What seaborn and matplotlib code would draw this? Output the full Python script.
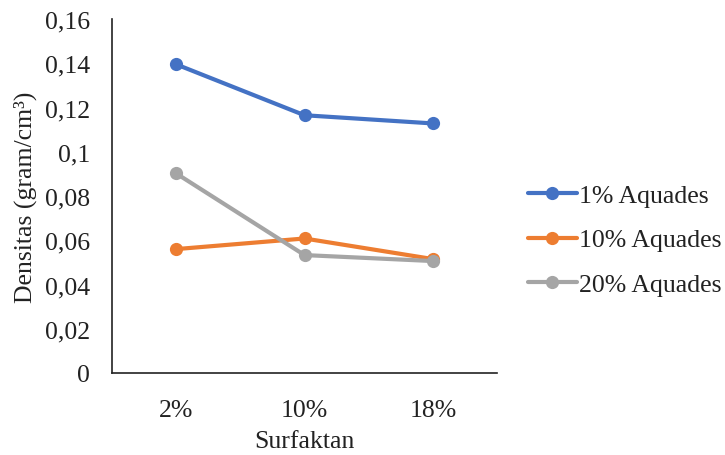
import matplotlib
matplotlib.use("Agg")
import matplotlib.pyplot as plt
import seaborn as sns
import pandas as pd

categories = ["2%", "10%", "18%"]
series_names = ["1% Aquades", "10% Aquades", "20% Aquades"]
aquades_1 = [0.1395, 0.1165, 0.1128]
aquades_10 = [0.0560, 0.0608, 0.0515]
aquades_20 = [0.0902, 0.0533, 0.0506]
colors = ["#4472C4", "#ED7D31", "#A5A5A5"]
yticks = [0, 0.02, 0.04, 0.06, 0.08, 0.1, 0.12, 0.14, 0.16]
ytick_labels = ["0", "0,02", "0,04", "0,06", "0,08", "0,1", "0,12", "0,14", "0,16"]

rows = []
for name, vals in zip(series_names, [aquades_1, aquades_10, aquades_20]):
    for c, v in zip(categories, vals):
        rows.append({"Surfaktan": c, "Densitas": v, "Seri": name})
df = pd.DataFrame(rows)

sns.set_style("white")
plt.rcParams["font.family"] = ["Liberation Serif", "DejaVu Serif"]
FS = 18.5

fig = plt.figure(figsize=(7.25, 4.56), dpi=100)
ax = fig.add_axes([112 / 725, 1 - 374 / 456, 385 / 725, 354 / 456])

sns.lineplot(data=df, x="Surfaktan", y="Densitas", hue="Seri", palette=colors,
             marker="o", markersize=9.5, markeredgewidth=0, linewidth=3,
             sort=False, ax=ax, legend=True)

ax.set_xlim(-0.5, 2.5)
ax.set_ylim(0, 0.16)
ax.set_yticks(yticks)
ax.set_yticklabels(ytick_labels)
ax.tick_params(axis="y", length=0, pad=16, labelsize=FS, colors="#222222")
ax.tick_params(axis="x", length=0, pad=19, labelsize=FS, colors="#222222")
for s in ["top", "right"]:
    ax.spines[s].set_visible(False)
for s in ["left", "bottom"]:
    ax.spines[s].set_color("#222222")
    ax.spines[s].set_linewidth(1.2)

ax.set_xlabel("Surfaktan", fontsize=FS, color="#222222")
ax.set_ylabel("Densitas (gram/cm³)", fontsize=FS, color="#222222")
ax.yaxis.set_label_coords(-0.195, 0.5)
ax.xaxis.set_label_coords(0.5, -0.162)

handles, labels = ax.get_legend_handles_labels()
ax.legend(handles, labels, loc="center left", bbox_to_anchor=(528 / 725, 1 - 241 / 456),
          bbox_transform=fig.transFigure, frameon=False, fontsize=FS,
          handlelength=1.9, handletextpad=0.08, labelspacing=0.85, borderpad=0,
          borderaxespad=0, labelcolor="#222222")

fig.savefig("out.png", dpi=100)
